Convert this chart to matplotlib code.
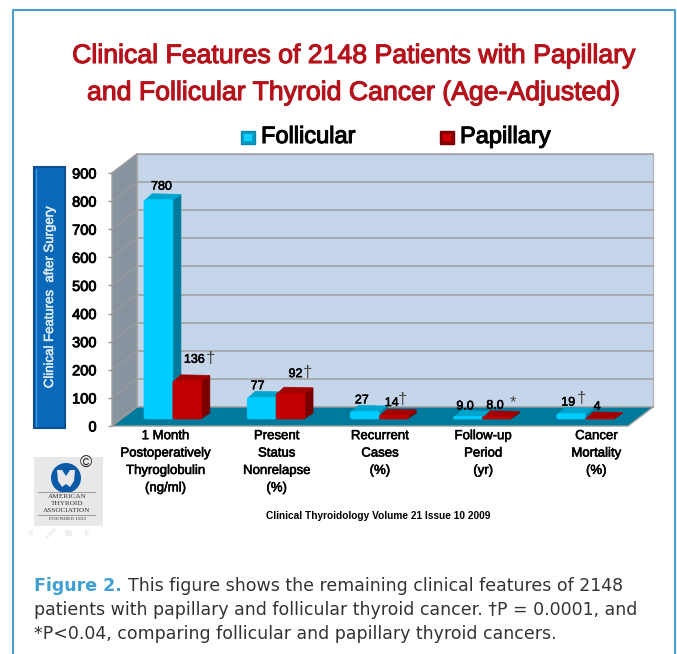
import matplotlib
matplotlib.use('Agg')
import matplotlib.pyplot as plt
from matplotlib.patches import Polygon, Rectangle, FancyBboxPatch, Circle
from matplotlib.transforms import ScaledTranslation
import matplotlib.patheffects as pe

categorias = ['1 Month\nPostoperatively\nThyroglobulin\n(ng/ml)', 'Present\nStatus\nNonrelapse\n(%)',
              'Recurrent\nCases\n(%)', 'Follow-up\nPeriod\n(yr)', 'Cancer\nMortality\n(%)']
folicular = [780, 77, 27, 9.0, 19]
papilar = [136, 92, 14, 8.0, 4]
rotulos_fol = ['780', '77', '27', '9.0', '19']
rotulos_pap = ['136', '92', '14', '8.0', '4']
marcas_fol = ['', '', '', '', '†']
marcas_pap = ['†', '†', '†', '*', '']
ticks_y = [0, 100, 200, 300, 400, 500, 600, 700, 800, 900]

plt.rcParams['font.family'] = ['Liberation Sans', 'DejaVu Sans']

W, H = 677, 654
fig = plt.figure(figsize=(W / 100, H / 100), dpi=100)
fundo = fig.add_axes([0, 0, 1, 1])
fundo.set_xlim(0, W)
fundo.set_ylim(H, 0)
fundo.axis('off')


def grosso(cor='black', lw=0.5):
    # engrossa a fonte normal, que e mais estreita que a bold
    return [pe.withStroke(linewidth=lw, foreground=cor)]


# moldura azul
fundo.plot([13, 13, 675, 675], [654, 10, 10, 654], color='#4a9fd0', lw=1.5)

# titulo e legenda
fundo.text(353, 56, 'Clinical Features of 2148 Patients with Papillary', color='#b5121b', fontsize=19.2,
           ha='center', va='center', path_effects=grosso('#b5121b', 0.8))
fundo.text(353, 93, 'and Follicular Thyroid Cancer (Age-Adjusted)', color='#b5121b', fontsize=19.2,
           ha='center', va='center', path_effects=grosso('#b5121b', 0.8))
fundo.add_patch(Rectangle((241, 131), 14, 13, fc='#0a9cc8', ec='#0a8ab0', lw=1))
fundo.add_patch(Rectangle((244, 134), 8, 7, fc='#10d0ff', ec='none'))
fundo.text(261, 137, 'Follicular', fontsize=17, va='center', path_effects=grosso('black', 0.8))
fundo.add_patch(Rectangle((440, 131), 14, 13, fc='#8a0000', ec='#7a0000', lw=1))
fundo.add_patch(Rectangle((443, 134), 8, 7, fc='#d00000', ec='none'))
fundo.text(460, 137, 'Papillary', fontsize=17, va='center', path_effects=grosso('black', 0.8))

# caixa azul do eixo y
fundo.add_patch(Rectangle((34, 167), 31, 261, fc='#0a68b8', ec='#0a4f95', lw=1.5))
fundo.plot([36, 36], [169, 426], color='#3a9be0', lw=1)
fundo.text(50, 297, 'Clinical Features  after Surgery', color='#d8e8f5', fontsize=9.5,
           rotation=90, ha='center', va='center', path_effects=grosso('#d8e8f5', 0.4))

# grafico: eixos no plano da frente
ax = fig.add_axes([112 / W, (H - 426) / H, 516 / W, 253 / H])
ax.set_xlim(-0.5, 4.5)
ax.set_ylim(0, 900)
ax.patch.set_alpha(0)
for s in ax.spines.values():
    s.set_visible(False)
ax.set_xticks(range(5))
ax.set_xticklabels(categorias, fontsize=9.5, linespacing=1.6)
ax.tick_params(axis='x', length=0, pad=3)
desloc_x = [2, 10, 10, 10, 20]
for rotulo, d in zip(ax.get_xticklabels(), desloc_x):
    rotulo.set_transform(rotulo.get_transform() + ScaledTranslation(d / 100, 0, fig.dpi_scale_trans))
    rotulo.set_path_effects(grosso('black', 0.4))
ax.set_yticks(ticks_y)
ax.set_yticklabels([str(t) for t in ticks_y], fontsize=10.5)
for rotulo in ax.get_yticklabels():
    rotulo.set_path_effects(grosso('black', 0.6))
ax.tick_params(axis='y', length=3, width=1, color='#999999', pad=8)

# profundidade da caixa 3D, em unidades de dados
dx, dy = 0.242, 67.6
x0, x1 = -0.5, 4.5
ax.add_patch(Polygon([(x0 + dx, dy), (x1 + dx, dy), (x1 + dx, 900 + dy), (x0 + dx, 900 + dy)],
                     fc='#c5d5ea', ec='#b5b5b5', lw=1, clip_on=False, zorder=1))
ax.add_patch(Polygon([(x0, 0), (x0 + dx, dy), (x0 + dx, 900 + dy), (x0, 900)],
                     fc='#87949f', ec='#a0a0a0', lw=1, clip_on=False, zorder=1))
ax.add_patch(Polygon([(x0, 0), (x1, 0), (x1 + dx, dy), (x0 + dx, dy)],
                     fc='#007a9c', ec='#9a9a9a', lw=1, clip_on=False, zorder=2))
for t in ticks_y[1:]:
    ax.plot([x0, x0 + dx], [t, t + dy], color='#a09a98', lw=0.8, clip_on=False, zorder=1.5)
    ax.plot([x0 + dx, x1 + dx], [t + dy, t + dy], color='#a3a3a3', lw=1.2, clip_on=False, zorder=1.5)


def barra(xc, v, cor, lado, topo):
    # barra 3D: frente arredondada, lado e topo
    w, bx, by = 0.28, 0.078, 21
    ox, oy = 0.09, 25
    e, d = xc + ox, xc + ox + w
    b, a = oy, oy + v
    ax.add_patch(Polygon([(d - 0.01, b), (d + bx, b + by), (d + bx, a + by - 4), (d - 0.01, a)], fc=lado, ec=lado,
                         lw=0.5, zorder=3, clip_on=False, joinstyle='round'))
    ax.add_patch(Polygon([(e + 0.01, a - 2), (d, a - 2), (d + bx, a + by - 2), (e + bx, a + by)], fc=topo, ec=topo,
                         lw=0.5, zorder=3, clip_on=False, joinstyle='round'))
    r = min(0.02, v / 355 / 2)
    ax.add_patch(FancyBboxPatch((e, b), w, v, boxstyle=f'round,pad=0,rounding_size={r}', mutation_aspect=355,
                                fc=cor, ec=cor, lw=0.5, zorder=4, clip_on=False))


for i in range(5):
    barra(i - 0.28, folicular[i], '#00ccff', '#007a9c', '#00a4cc')
    barra(i, papilar[i], '#c00000', '#7a0000', '#a00000')

# rotulos de valor, deslocados em pixels a partir do topo de cada barra
ajuste_fol = [(3, 13), (-4, 11), (-3, 11), (-3, 10), (-3, 11)]
ajuste_pap = [(7, 21), (5, 19), (-2, 12), (-2, 11), (-3, 11)]
ajuste_marca_fol = [(0, 0), (0, 0), (0, 0), (0, 0), (13, 4)]
ajuste_marca_pap = [(16, 1), (12, 2), (11, 4), (18, 3), (0, 0)]
for i in range(5):
    xf, xp = i - 0.05, i + 0.23
    yf, yp = folicular[i] + 25, papilar[i] + 25
    for x, y, txt, aj, marca, am in [(xf, yf, rotulos_fol[i], ajuste_fol[i], marcas_fol[i], ajuste_marca_fol[i]),
                                     (xp, yp, rotulos_pap[i], ajuste_pap[i], marcas_pap[i], ajuste_marca_pap[i])]:
        ax.annotate(txt, (x, y), xytext=aj, textcoords='offset pixels', ha='center', va='center',
                    fontsize=9, zorder=6, annotation_clip=False, path_effects=grosso('black', 0.4))
        if marca:
            ax.annotate(marca, (x, y), xytext=(aj[0] + am[0], aj[1] + am[1]), textcoords='offset pixels',
                        ha='center', va='center', fontsize=12, color='#444444', zorder=6, annotation_clip=False)

# logo
fundo.add_patch(Rectangle((34, 457), 69, 69, fc='#e8e8e8', ec='none'))
fundo.add_patch(Circle((66, 478), 15, fc='#0b5aa8', ec='none'))
fundo.add_patch(Polygon([(57, 470), (62, 470), (66, 476), (70, 470), (75, 470), (74, 481), (70, 487), (66, 484),
                         (62, 487), (58, 481)], fc='#e8e8e8', ec='none'))
fundo.text(86, 463, '©', fontsize=12, ha='center', va='center', color='#222222')
fundo.plot([38, 95], [492, 492], color='#999999', lw=0.7)
fundo.plot([38, 95], [515, 515], color='#999999', lw=0.7)
for y_logo, txt_logo, fs_logo in [(497, 'AMERICAN', 5.2), (503.5, 'THYROID', 5.2), (510, 'ASSOCIATION', 5.2),
                                  (519, 'FOUNDED 1923', 3.8)]:
    fundo.text(67, y_logo, txt_logo, family='Liberation Serif', fontsize=fs_logo, ha='center', va='center',
               color='#333333')
# icones apagados abaixo do logo
fundo.add_patch(Polygon([(28, 533), (33, 529), (33, 537)], fc='#f0f0f0', ec='none'))
fundo.plot([47, 54], [537, 530], color='#f0f0f0', lw=2)
fundo.add_patch(Rectangle((65, 530), 7, 6, fc='#eeeeee', ec='none'))
fundo.add_patch(Polygon([(90, 533), (85, 529), (85, 537)], fc='#f0f0f0', ec='none'))

fundo.text(378, 516, 'Clinical Thyroidology Volume 21 Issue 10 2009', fontsize=7.3,
           fontweight='bold', ha='center', va='center')

# legenda da figura
fig_txt = dict(family='DejaVu Sans', fontsize=12.5, color='#333333', va='center')
fundo.text(34, 586, 'Figure 2.', color='#3f9fd2', family='DejaVu Sans', fontsize=12.5, fontweight='bold', va='center')
fundo.text(128, 586, 'This figure shows the remaining clinical features of 2148', **fig_txt)
fundo.text(34, 610, 'patients with papillary and follicular thyroid cancer. †P = 0.0001, and', **fig_txt)
fundo.text(34, 634, '*P<0.04, comparing follicular and papillary thyroid cancers.', **fig_txt)

fig.savefig('out.png', dpi=100)
